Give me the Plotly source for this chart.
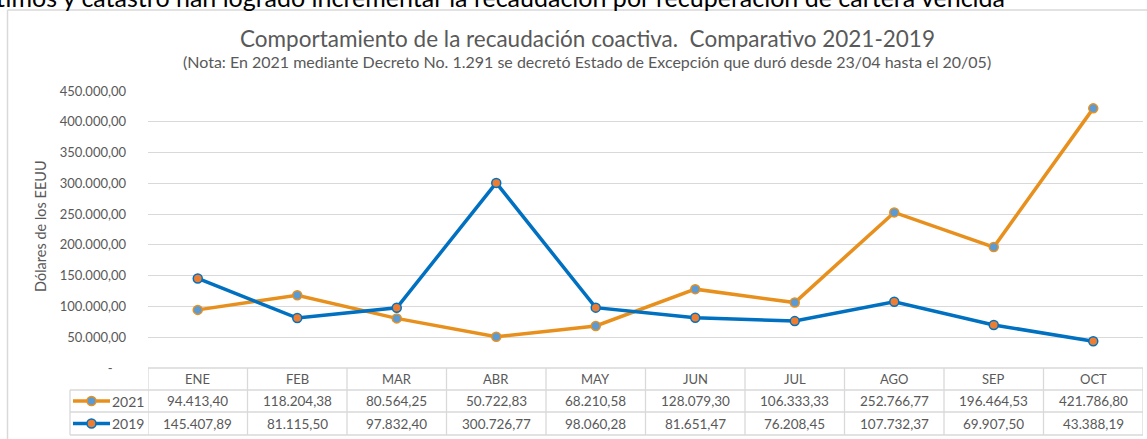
import plotly.graph_objects as go

# ---- data ----
months = ["ENE", "FEB", "MAR", "ABR", "MAY", "JUN", "JUL", "AGO", "SEP", "OCT"]
rec_2021 = [94413.40, 118204.38, 80564.25, 50722.83, 68210.58, 128079.30, 106333.33, 252766.77, 196464.53, 421786.80]
rec_2019 = [145407.89, 81115.50, 97832.40, 300726.77, 98060.28, 81651.47, 76208.45, 107732.37, 69907.50, 43388.19]
series_names = ["2021", "2019"]
y_ticks = [0, 50000, 100000, 150000, 200000, 250000, 300000, 350000, 400000, 450000]

W, H = 1147, 439
FONT = "Lato"
GRAY = "#595959"
GRID = "#d9d9d9"
ORANGE = "#E8901E"
BLUE = "#0070C0"
MK_BLUE = "#5B9BD5"
MK_ORANGE = "#ED7D31"


def px(x):
    return x / W


def py(y):
    return 1 - y / H


def fmt(v):
    s = f"{v:,.2f}"
    return s.replace(",", "X").replace(".", ",").replace("X", ".")


tick_text = ["-    " if v == 0 else fmt(v) for v in y_ticks]

xs = list(range(len(months)))
fig = go.Figure()
fig.add_trace(go.Scatter(
    x=xs, y=rec_2021, name=series_names[0], mode="lines+markers",
    line=dict(color=ORANGE, width=3.5),
    marker=dict(size=9, color=MK_BLUE, line=dict(color=ORANGE, width=1.5)),
))
fig.add_trace(go.Scatter(
    x=xs, y=rec_2019, name=series_names[1], mode="lines+markers",
    line=dict(color=BLUE, width=3.5),
    marker=dict(size=9, color=MK_ORANGE, line=dict(color=BLUE, width=1.5)),
))

shapes = []
annotations = []


def ann(x, y, text, size, xref="paper", xanchor="center", color=GRAY, **kw):
    d = dict(x=x, xref=xref, y=y, yref="paper", text=text, showarrow=False,
             xanchor=xanchor, yanchor="middle", font=dict(family=FONT, size=size, color=color))
    d.update(kw)
    annotations.append(d)


# chart frame (left and top edges; the rest lies outside the picture)
shapes.append(dict(type="line", xref="paper", yref="paper", x0=px(7.5), x1=px(7.5),
                   y0=0, y1=py(10), line=dict(color=GRID, width=1.5), layer="below"))
shapes.append(dict(type="line", xref="paper", yref="paper", x0=px(7.5), x1=1,
                   y0=py(10), y1=py(10), line=dict(color=GRID, width=1.5), layer="below"))

# table rows (pixel y)
y_head_top, y_head_bot, y_r1_bot, y_r2_bot = 368, 390, 412, 435
x_tab_left = 70
# horizontal lines
shapes.append(dict(type="line", xref="x", yref="paper", x0=-0.5, x1=len(months) - 0.5,
                   y0=py(y_head_top), y1=py(y_head_top), line=dict(color=GRID, width=1.3)))
for yy in (y_head_bot, y_r1_bot, y_r2_bot):
    shapes.append(dict(type="line", xref="paper", yref="paper", x0=px(x_tab_left), x1=px(1143),
                       y0=py(yy), y1=py(yy), line=dict(color=GRID, width=1.3)))
# vertical lines
for i in range(len(months) + 1):
    shapes.append(dict(type="line", xref="x", yref="paper", x0=i - 0.5, x1=i - 0.5,
                       y0=py(y_head_top), y1=py(y_r2_bot), line=dict(color=GRID, width=1.3)))
shapes.append(dict(type="line", xref="paper", yref="paper", x0=px(x_tab_left), x1=px(x_tab_left),
                   y0=py(y_head_bot), y1=py(y_r2_bot), line=dict(color=GRID, width=1.3)))

# header & cells
for i, m in enumerate(months):
    ann(i, py((y_head_top + y_head_bot) / 2), m, 13, xref="x")
    ann(i, py((y_head_bot + y_r1_bot) / 2), fmt(rec_2021[i]), 13.5, xref="x")
    ann(i, py((y_r1_bot + y_r2_bot) / 2), fmt(rec_2019[i]), 13.5, xref="x")

# legend keys in table
for (yc, lc, mf, name) in (((y_head_bot + y_r1_bot) / 2, ORANGE, MK_BLUE, series_names[0]),
                           ((y_r1_bot + y_r2_bot) / 2, BLUE, MK_ORANGE, series_names[1])):
    shapes.append(dict(type="line", xref="paper", yref="paper", x0=px(73), x1=px(110),
                       y0=py(yc), y1=py(yc), line=dict(color=lc, width=3.5)))
    shapes.append(dict(type="circle", xref="paper", yref="paper", x0=px(87), x1=px(96),
                       y0=py(yc + 4.5), y1=py(yc - 4.5), fillcolor=mf, line=dict(color=lc, width=1.5)))
    ann(px(146), py(yc), name, 14, xanchor="right")

# titles
ann(px(587), py(38.5), "Comportamiento de la recaudación coactiva.  Comparativo 2021-2019", 22.5)
ann(px(587), py(62),
    "(Nota: En 2021 mediante Decreto No. 1.291 se decretó Estado de Excepción que duró desde 23/04 hasta el 20/05)",
    16)
ann(px(40), py(226), "Dólares de los EEUU", 14.5, textangle=-90)
# document text above the chart (cut off at the top edge)
ann(px(-6), py(-3), "timos y catastro han logrado incrementar la recaudación por recuperación de cartera vencida",
    25, xanchor="left", color="#000000")

fig.update_layout(
    width=W, height=H,
    margin=dict(l=0, r=0, t=0, b=0, pad=0, autoexpand=False),
    paper_bgcolor="white", plot_bgcolor="white",
    showlegend=False,
    shapes=shapes, annotations=annotations,
    xaxis=dict(domain=[px(148), px(1143)], range=[-0.5, len(months) - 0.5], automargin=False,
               showticklabels=False, showgrid=False, zeroline=False, ticks=""),
    yaxis=dict(domain=[py(368), py(91)], range=[0, 450000], automargin=False,
               tickvals=y_ticks, ticktext=tick_text, showgrid=True, gridcolor=GRID, gridwidth=1.3,
               zeroline=False, ticks="", ticklabelstandoff=21,
               tickfont=dict(family=FONT, size=13, color=GRAY)),
)

fig.write_html("out.html", config={"displayModeBar": False},
               post_script="document.body.style.margin='0';")
